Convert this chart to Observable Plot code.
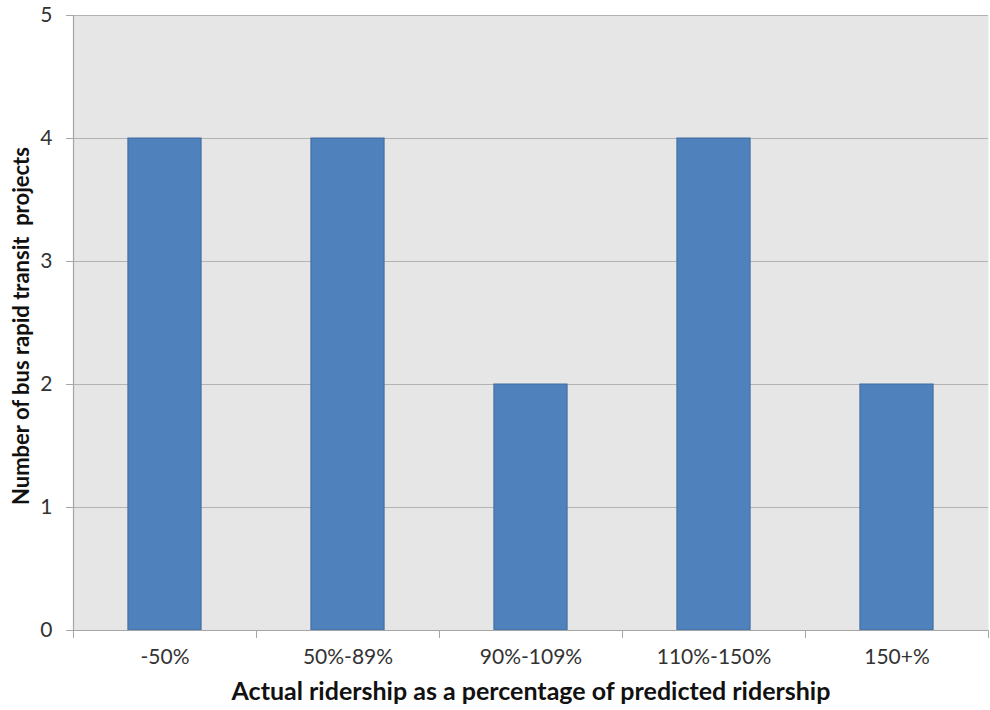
<!DOCTYPE html>
<html>
<head>
<meta charset="utf-8">
<script src="https://cdn.jsdelivr.net/npm/d3@7"></script>
<script src="https://cdn.jsdelivr.net/npm/@observablehq/plot@0.6"></script>
<style>
  html, body { margin: 0; padding: 0; background: #fff; }
  #chart { width: 990px; height: 710px; }
</style>
</head>
<body>
<div id="chart"></div>
<script>
const categories = ["-50%", "50%-89%", "90%-109%", "110%-150%", "150+%"];
const counts = [4, 4, 2, 4, 2];
const yTicks = [0, 1, 2, 3, 4, 5];
const yLabel = "Number of bus rapid transit  projects";
const xLabel = "Actual ridership as a percentage of predicted ridership";

const data = categories.map((c, i) => ({category: c, index: i, count: counts[i]}));
const boundaries = d3.range(categories.length + 1);
const centers = categories.map((c, i) => i + 0.5);

const font = "Lato, 'Open Sans', 'DejaVu Sans', sans-serif";

const chart = Plot.plot({
  width: 990,
  height: 710,
  marginLeft: 73,
  marginRight: 2,
  marginTop: 15,
  marginBottom: 80,
  style: {fontFamily: font, background: "#fff"},
  x: {domain: [0, categories.length], axis: null},
  y: {domain: [0, 5], axis: null},
  marks: [
    Plot.frame({fill: "#e6e6e6", stroke: null}),
    Plot.ruleY(yTicks.filter(d => d > 0), {stroke: "#b3b3b3", strokeWidth: 1.2}),
    Plot.rectY(data, {
      x1: d => d.index + 0.3,
      x2: d => d.index + 0.7,
      y1: 0,
      y2: "count",
      fill: "#4f81bd",
      stroke: "#3f6d9e",
      strokeWidth: 1
    }),
    Plot.ruleX([0], {stroke: "#a6a6a6", strokeWidth: 1.2}),
    Plot.ruleY([0], {stroke: "#a6a6a6", strokeWidth: 1.2}),
    Plot.axisY({
      ticks: yTicks,
      tickSize: 7,
      tickPadding: 14,
      tickFormat: d3.format("d"),
      stroke: "#a6a6a6",
      fill: "#333",
      fontSize: 21,
      label: null
    }),
    Plot.axisX({
      ticks: boundaries,
      tickSize: 8,
      tickFormat: () => "",
      stroke: "#a6a6a6",
      label: null
    }),
    Plot.axisX({
      ticks: centers,
      tickSize: 0,
      tickPadding: 19,
      tickFormat: d => categories[Math.floor(d)],
      fill: "#333",
      fontSize: 21,
      label: null
    }),
    Plot.text([yLabel], {
      frameAnchor: "left",
      textAnchor: "middle",
      rotate: -90,
      dx: -52,
      dy: 3,
      fontWeight: "bold",
      fontSize: 22,
      fill: "#111"
    }),
    Plot.text([xLabel], {
      frameAnchor: "bottom",
      dy: 69,
      fontWeight: "bold",
      fontSize: 25,
      fill: "#111"
    })
  ]
});
document.getElementById("chart").appendChild(chart);
</script>
</body>
</html>
